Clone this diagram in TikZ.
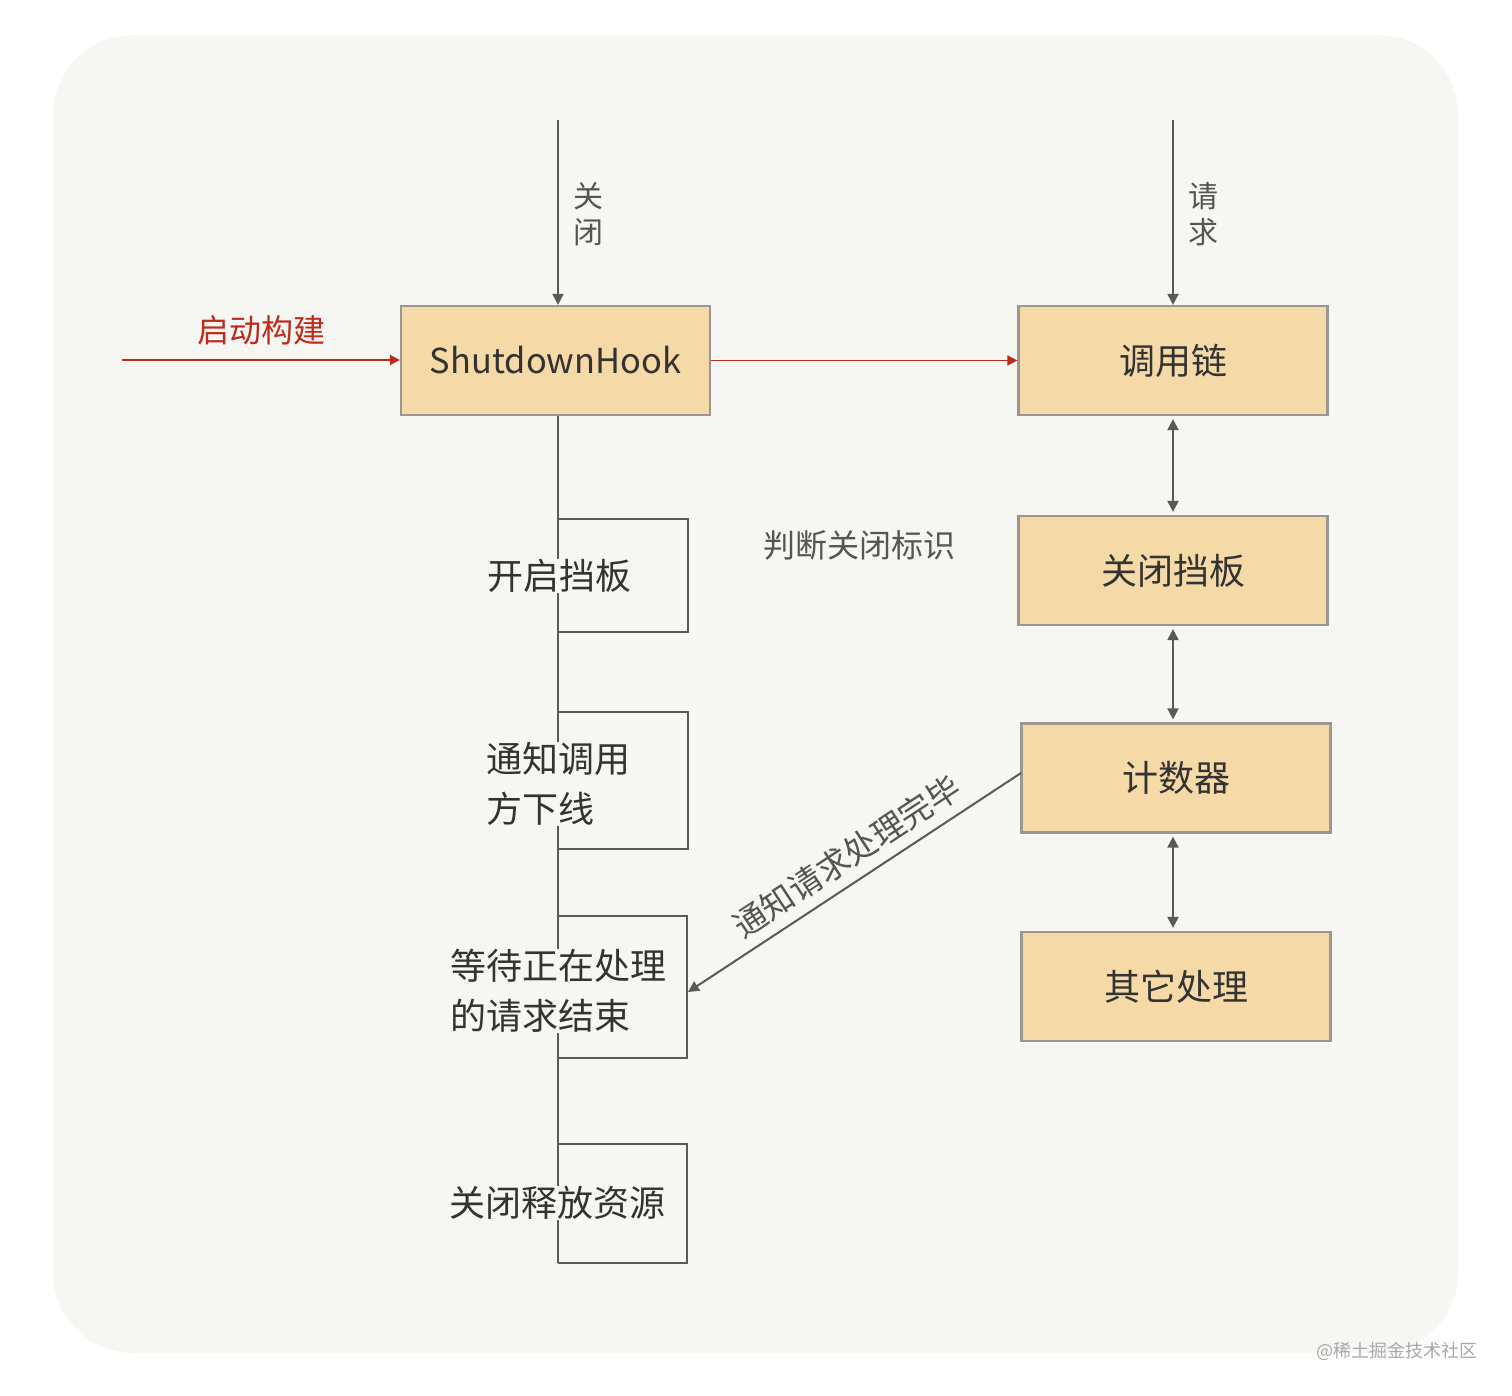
\documentclass[tikz,border=0pt]{standalone}
\usepackage{fontspec}
\setmainfont{Noto Sans CJK SC}
\usetikzlibrary{arrows.meta}
\definecolor{bg}{HTML}{F6F6F2}
\definecolor{boxfill}{HTML}{F5D9A6}
\definecolor{boxline}{HTML}{9A9790}
\definecolor{ln}{HTML}{5A5A5A}
\definecolor{redc}{HTML}{BE2A1B}
\definecolor{txt}{HTML}{333333}
\definecolor{lbl}{HTML}{555555}
\definecolor{wm}{HTML}{A8A8A8}
\begin{document}
\begin{tikzpicture}[x=0.5pt,y=-0.5pt,
  box/.style={draw=boxline, line width=1.1pt, fill=boxfill, minimum width=154.5pt, minimum height=54.5pt, inner sep=0pt, font=\fontsize{18}{22}\selectfont, text=txt},
  steptext/.style={fill=bg, inner sep=0pt, align=left, font=\fontsize{18}{25}\selectfont, text=txt},
  lab/.style={font=\fontsize{15}{18}\selectfont, text=lbl, align=center, inner sep=0pt},
  conn/.style={draw=ln, line width=1pt},
  tip/.style={-{Triangle[length=5.5pt,width=5.5pt]}},
  dtip/.style={{Triangle[length=5.5pt,width=5.5pt]}-{Triangle[length=5.5pt,width=5.5pt]}},
  redconn/.style={draw=redc, line width=0.8pt, -{Triangle[length=5pt,width=5pt]}},
  frame/.style={draw=ln, line width=1pt}
]
\path[use as bounding box] (0,0) rectangle (1512,1396);
\fill[bg, rounded corners=40pt] (53,35) rectangle (1458,1353);

% boxes
\node[box, font=\fontsize{17.2}{21}\selectfont] (sh) at (555.5,360.5) {ShutdownHook};
\node[box] (chain) at (1173,360.5) {调用链};
\node[box] (gate) at (1173,570.5) {关闭挡板};
\node[box] (counter) at (1176,778) {计数器};
\node[box] (other) at (1176,986.5) {其它处理};

% free ends
\coordinate (closeTop) at (558,120);
\coordinate (reqTop) at (1173,120);
\coordinate (startL) at (122,360);
\coordinate (colEnd) at (558,1263);
\coordinate (waitR) at (688,992);
\coordinate (cntL) at (1021,773);

% top arrows
\draw[conn, tip] (closeTop) -- (closeTop |- sh.north);
\node[lab] (lclose) at (588,214) {关\\闭};
\draw[conn, tip] (reqTop) -- (reqTop |- chain.north);
\node[lab] (lreq) at (1203,214) {请\\求};

% red arrows
\draw[redconn] (startL) -- (startL -| sh.west);
\node[font=\fontsize{16}{18}\selectfont, text=redc, inner sep=0pt] (lstart) at (261,330) {启动构建};
\draw[redconn] (sh.east) -- (sh.east -| chain.west);

% right column double arrows
\draw[conn, dtip, shorten <=1.5pt, shorten >=1.5pt] (chain.south) -- (gate.north);
\draw[conn, dtip, shorten <=1.5pt, shorten >=1.5pt] (gate.south) -- (gate.south |- counter.north);
\draw[conn, dtip, shorten <=1.5pt, shorten >=1.5pt] (gate.south |- counter.south) -- (gate.south |- other.north);

% left column
\draw[conn] (colEnd |- sh.south) -- (colEnd);
\draw[frame] (558,519) -| (688,632) -- (558,632);
\draw[frame] (558,712) -| (688,849) -- (558,849);
\draw[frame] (558,916) -| (687,1058) -- (558,1058);
\draw[frame] (558,1144) -| (687,1263) -- (558,1263);

\node[steptext] (s1) at (559,576) {开启挡板};
\node[steptext] (s2) at (558,784) {通知调用\\方下线};
\node[steptext] (s3) at (558,991) {等待正在处理\\的请求结束};
\node[steptext] (s4) at (557,1203) {关闭释放资源};

% diagonal
\draw[conn, tip] (cntL) -- node[sloped, above=5pt, pos=0.48, font=\fontsize{16.5}{18}\selectfont, text=lbl, inner sep=0pt] (ldiag) {通知请求处理完毕} (waitR);

\node[font=\fontsize{16}{18}\selectfont, text=lbl, inner sep=0pt] (ljudge) at (859,545) {判断关闭标识};

\node[font=\fontsize{9}{11}\selectfont, text=wm, inner sep=0pt] (wmark) at (1397,1351) {@稀土掘金技术社区};
\end{tikzpicture}
\end{document}
